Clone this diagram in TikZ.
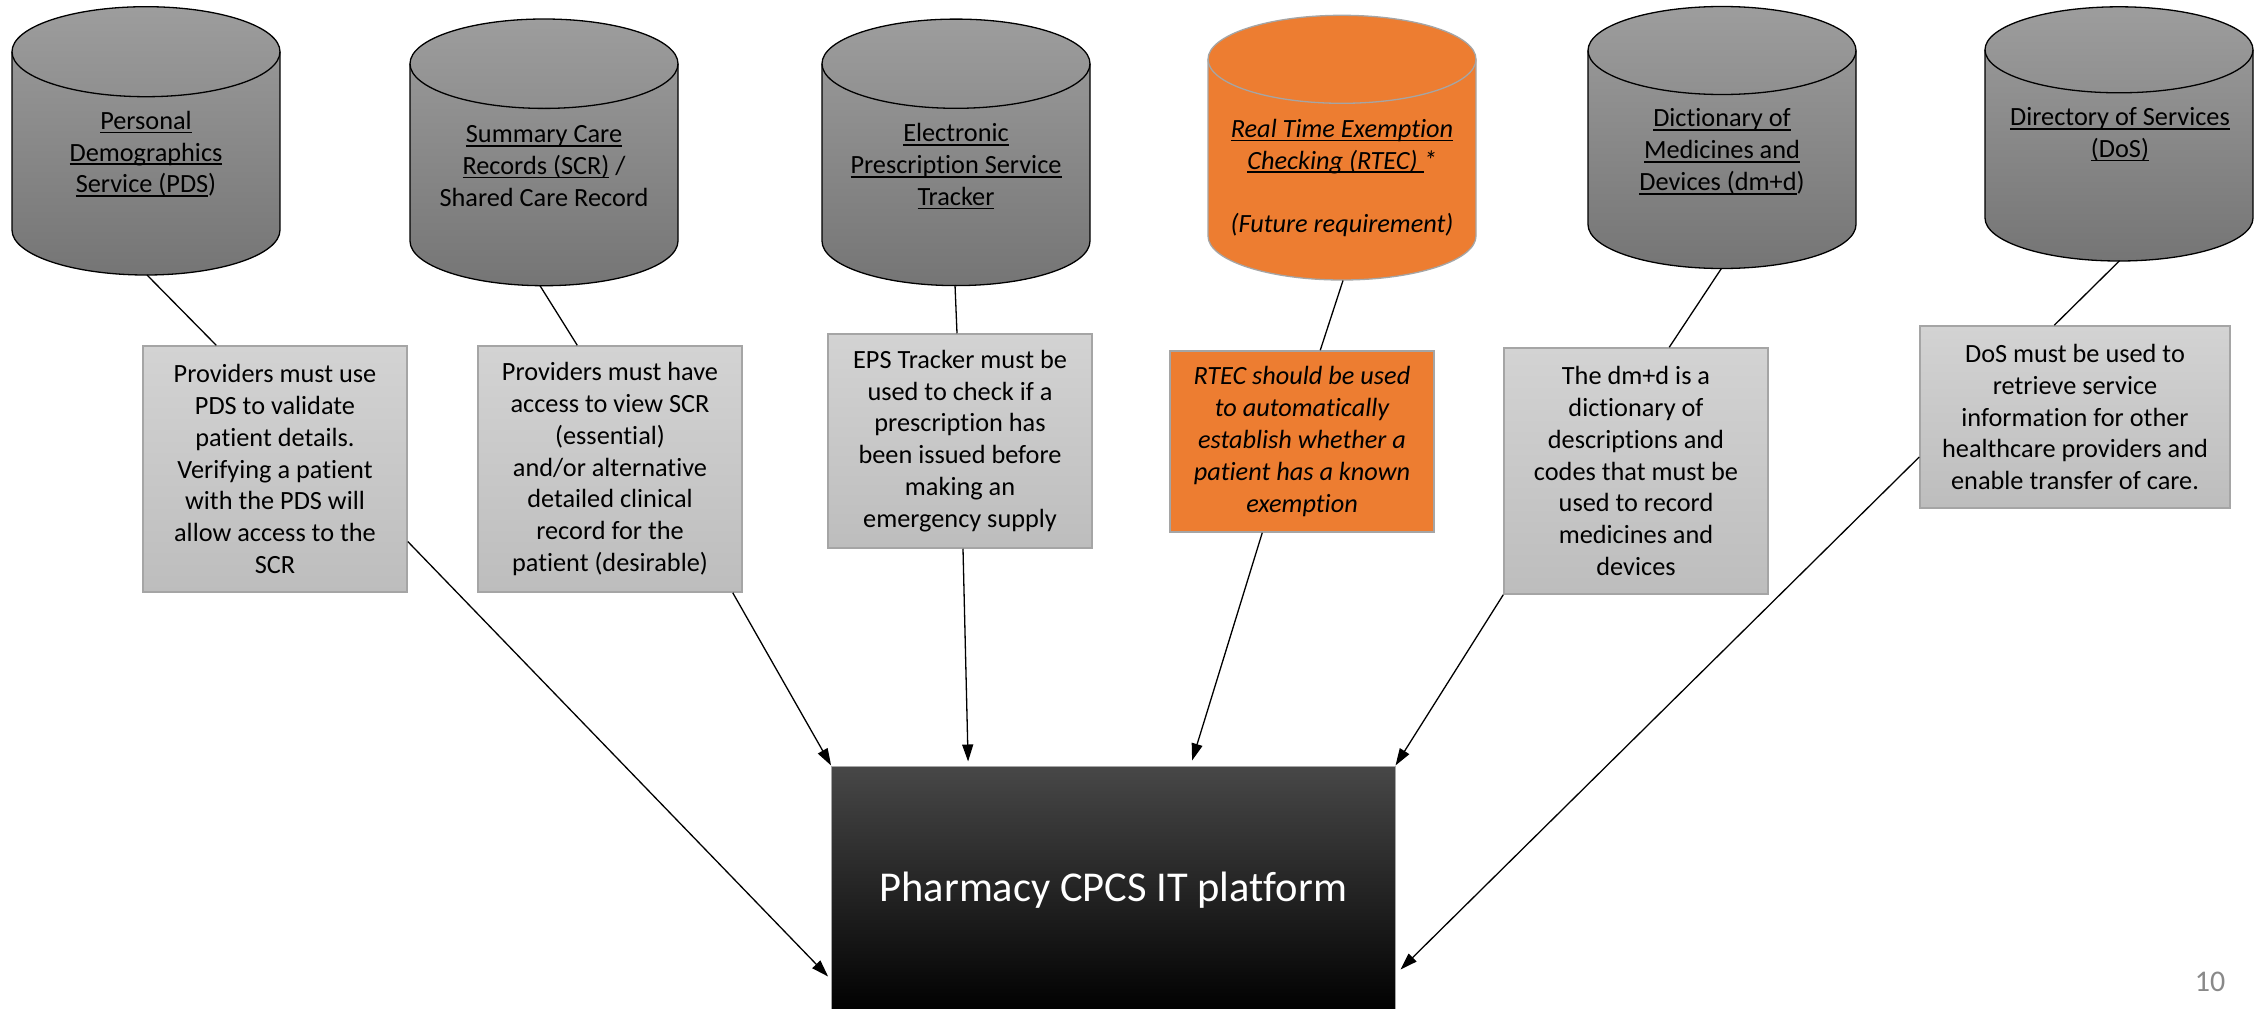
\documentclass[tikz,border=0pt]{standalone}
\usepackage{fontspec}
\setmainfont{Carlito}[Ligatures=NoCommon]
\usetikzlibrary{arrows.meta,calc}
\definecolor{cylTop}{RGB}{157,157,157}
\definecolor{cylBot}{RGB}{117,117,117}
\definecolor{boxTop}{RGB}{211,211,211}
\definecolor{boxBot}{RGB}{189,189,189}
\definecolor{boxLine}{RGB}{165,165,165}
\definecolor{orng}{HTML}{ED7D31}
\definecolor{pageGray}{RGB}{137,137,137}
\newcommand\fsz{\fontsize{26.3}{31.8}\selectfont}
\newcommand\myul[1]{\setbox0\hbox{#1}\rlap{\rule[-4pt]{\wd0}{1.7pt}}\box0\relax}
% #1 cx, #2 top centre y, #3 bottom centre y, #4 ry, #5 style prefix
\newcommand\dbcyl[5]{%
  \path[#5] (#1-134,#2) -- (#1-134,#3)
     arc[start angle=180,end angle=360,x radius=134pt,y radius=#4pt]
     -- (#1+134,#2)
     arc[start angle=0,end angle=180,x radius=134pt,y radius=#4pt] -- cycle;
  \draw[#5 line] (#1-134,#2) arc[start angle=180,end angle=360,x radius=134pt,y radius=#4pt];}
\tikzset{
  cylGray/.style={top color=cylTop,bottom color=cylBot,draw=black,line width=1.3pt},
  cylGray line/.style={draw=black,line width=1.3pt},
  cylOrange/.style={fill=orng,draw=boxLine,line width=1.3pt},
  cylOrange line/.style={draw=boxLine,line width=1.3pt},
  cyltext/.style={font=\fsz,align=center,inner sep=0pt},
  infobox/.style={font=\fsz,align=center,inner sep=0pt,minimum width=264pt,
     top color=boxTop,bottom color=boxBot,draw=boxLine,line width=1.5pt},
  orangebox/.style={font=\fsz\itshape,align=center,inner sep=0pt,minimum width=264pt,
     fill=orng,draw=boxLine,line width=1.5pt},
  platbox/.style={font=\fontsize{42.5}{50}\selectfont,text=white,inner sep=0pt,
     minimum width=563.4pt,minimum height=249pt,
     top color=black!72,middle color=black,bottom color=black,draw=black!35,line width=1pt},
  link/.style={draw=black,line width=1.3pt},
  arrowlink/.style={link,-{Triangle[length=17pt,width=11pt]}}
}
\begin{document}
\begin{tikzpicture}[x=1pt,y=1pt]
\fill[white] (0,0) rectangle (2255,-1009);
\useasboundingbox (0,0) rectangle (2255,-1009);

% cylinders
\dbcyl{146}{-51.7}{-230}{45}{cylGray}
\dbcyl{544}{-63.7}{-241}{44.7}{cylGray}
\dbcyl{956}{-63.7}{-241}{44.6}{cylGray}
\dbcyl{1342}{-59.3}{-236}{44}{cylOrange}
\dbcyl{1722}{-50.5}{-224.5}{44}{cylGray}
\dbcyl{2119}{-49.8}{-218}{43}{cylGray}

\node[cyltext] (pds) at (146,-154) {\myul{Personal}\\\myul{Demographics}\\\myul{Service (PDS})};
\node[cyltext] (scr) at (544,-166) {\myul{Summary Care}\\\myul{Records (SCR)} /\\Shared Care Record};
\node[cyltext] (eps) at (956,-166.5) {\myul{Electronic}\\\myul{Prescription Service}\\\myul{Tracker}};
\node[cyltext,font=\fsz\itshape] (rtec) at (1342,-178) {\myul{Real Time Exemption}\\\myul{Checking (RTEC)\ }*\\\strut\\(Future requirement)};
\node[cyltext] (dmd) at (1722,-151.7) {\myul{Dictionary of}\\\myul{Medicines and}\\\myul{Devices (dm+d})};
\node[cyltext] (dos) at (2120,-134.5) {\myul{Directory of Services}\\\myul{(DoS)}};

\coordinate (pdsB) at (147,-275);
\coordinate (scrB) at (540,-285.7);
\coordinate (epsB) at (955,-285);
\coordinate (rtecB) at (1343,-280.5);
\coordinate (dmdB) at (1721.5,-268.3);
\coordinate (dosB) at (2119.6,-260.7);

% boxes
\node[infobox,minimum height=246pt] (pdsbox) at (275,-469) {Providers must use\\PDS to validate\\patient details.\\Verifying a patient\\with the PDS will\\allow access to the\\SCR};
\node[infobox,minimum height=246pt] (scrbox) at (610,-469) {Providers must have\\access to view SCR\\(essential)\\and/or alternative\\detailed clinical\\record for the\\patient (desirable)};
\node[infobox,minimum height=214pt] (epsbox) at (960,-441) {EPS Tracker must be\\used to check if a\\prescription has\\been issued before\\making an\\emergency supply};
\node[orangebox,minimum height=181pt] (rtecbox) at (1302,-441.5) {RTEC should be used\\to automatically\\establish whether a\\patient has a known\\exemption};
\node[infobox,minimum height=246pt] (dmdbox) at (1636,-471) {The dm+d is a\\dictionary of\\descriptions and\\codes that must be\\used to record\\medicines and\\devices};
\node[infobox,minimum height=182pt,minimum width=310pt] (dosbox) at (2075,-417) {DoS must be used to\\retrieve service\\information for other\\healthcare providers and\\enable transfer of care.};

% platform
\node[platbox] (plat) at (1113.3,-890.5) {Pharmacy CPCS IT platform};

% page number
\node[font=\fontsize{30}{36}\selectfont,text=pageGray,inner sep=0pt] (pagenum) at (2210,-982) {10};

% cylinder to box links
\draw[link] (pdsB) -- ([xshift=74pt]pdsbox.north west);
\draw[link] (scrB) -- ([xshift=100pt]scrbox.north west);
\draw[link] (epsB) -- ([xshift=-3pt]epsbox.north);
\draw[link] (rtecB) -- ([xshift=151pt]rtecbox.north west);
\draw[link] (dmdB) -- ([xshift=166pt]dmdbox.north west);
\draw[link] (dosB) -- ([xshift=135pt]dosbox.north west);

% box to platform arrows
\draw[arrowlink] ([yshift=-72.5pt]pdsbox.east) -- ([xshift=-3pt,yshift=-211pt]plat.north west);
\draw[arrowlink] ([xshift=-10pt]scrbox.south east) -- (plat.north west);
\draw[arrowlink] ([xshift=3pt]epsbox.south) -- ([xshift=137pt,yshift=4pt]plat.north west);
\draw[arrowlink] ([xshift=93pt]rtecbox.south west) -- ([xshift=361pt,yshift=5pt]plat.north west);
\draw[arrowlink] (dmdbox.south west) -- (plat.north east);
\draw[arrowlink] ([yshift=-40pt]dosbox.west) -- ([xshift=5pt,yshift=-204pt]plat.north east);
\end{tikzpicture}
\end{document}
